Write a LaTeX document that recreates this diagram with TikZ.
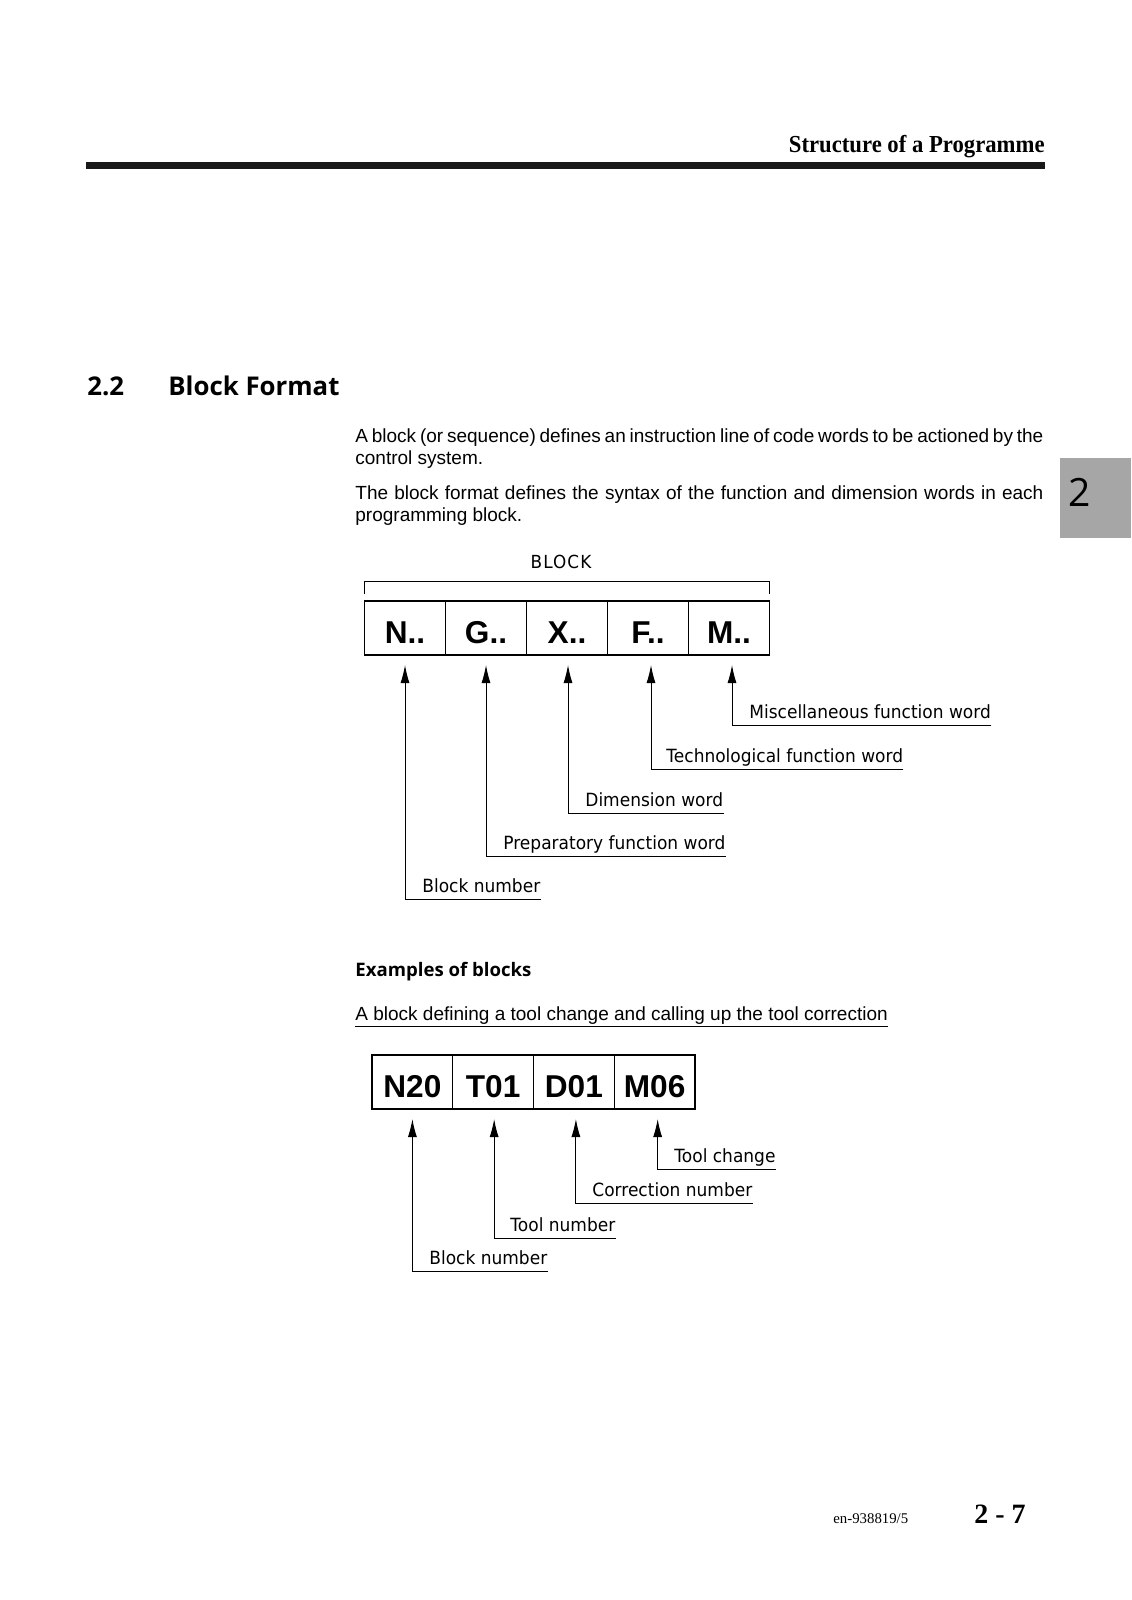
\documentclass[tikz,border=0pt]{standalone}
\usepackage{fontspec}
\setmainfont{Liberation Sans}
\newfontfamily\labelfont[FakeStretch=0.935]{DejaVu Sans}
\newfontfamily\headfont{Open Sans}
\newfontfamily\runfont[FakeStretch=0.93]{Liberation Serif}
\newfontfamily\footfont{Liberation Serif}
\usetikzlibrary{arrows.meta,positioning}

\begin{document}
\begin{tikzpicture}[x=0.5pt,y=-0.5pt,>=Latex,
  word/.style={draw,line width=0.5pt,minimum width=40.5pt,minimum height=27pt,inner sep=0pt,outer sep=0pt,text height=15pt,text depth=0pt,font=\bfseries\fontsize{15.8}{18}\selectfont},
  note/.style={anchor=south west,inner sep=0pt,text depth=3pt,font=\labelfont\fontsize{9.1}{11}\selectfont},
  body/.style={anchor=base west,inner sep=0pt,font=\fontsize{9.5}{11}\selectfont},
  pointer/.style={-{Latex[length=9pt,width=4.5pt]},line width=0.5pt,shorten >=5pt}]
\useasboundingbox (0,0) rectangle (1131,1600);

% running head
\node[anchor=base east,inner sep=0pt,font=\runfont\bfseries\fontsize{12.2}{14}\selectfont] (head) at (1045,152) {Structure of a Programme};
\fill[black!90] (86,162) rectangle (1045,169);

% side tab
\fill[black!35] (1060,458) rectangle (1131,538);
\node[inner sep=0pt,font=\headfont\fontsize{19.5}{22}\selectfont] (tab) at (1080,492) {2};

% section heading
\node[anchor=base west,inner sep=0pt,font=\headfont\bfseries\fontsize{12.9}{15}\selectfont] (secnum) at (87,395) {2.2};
\node[anchor=base west,inner sep=0pt,font=\headfont\bfseries\fontsize{12.9}{15}\selectfont] (sectitle) at (168,395) {Block Format};

% text
\node[body] (p1a) at (355,442) {\makebox[344pt][s]{A block (or sequence) defines an instruction line of code words to be actioned by the}};
\node[body] (p1b) at (355,464) {control system.};
\node[body] (p2a) at (355,499) {\makebox[344pt][s]{The block format defines the syntax of the function and dimension words in each}};
\node[body] (p2b) at (355,521) {programming block.};

% block format
\node[word] (n1) at (405,628) {N..};
\node[word,right=0pt of n1] (n2) {G..};
\node[word,right=0pt of n2] (n3) {X..};
\node[word,right=0pt of n3] (n4) {F..};
\node[word,right=0pt of n4] (n5) {M..};
\draw[line width=0.9pt] (n1.north west) rectangle (n5.south east);
\draw[line width=0.5pt] ([yshift=3.5pt]n1.north west) -- ([yshift=10pt]n1.north west) -- ([yshift=10pt]n5.north east) -- ([yshift=3.5pt]n5.north east);
\node[inner sep=0pt,font=\labelfont\fontsize{9}{11}\selectfont\addfontfeature{LetterSpace=6}] (blk) at (561,562) {BLOCK};

\node[note] (t5) at (749,725) {Miscellaneous function word};
\node[note] (t4) at (666,769) {Technological function word};
\node[note] (t3) at (585,813) {Dimension word};
\node[note] (t2) at (503,856) {Preparatory function word};
\node[note] (t1) at (422,899) {Block number};
\draw[pointer] (t5.south east) -- ([xshift=1.5pt]t5.south west -| n5.south) -- ([xshift=1.5pt]n5.south);
\draw[pointer] (t4.south east) -- ([xshift=1.5pt]t4.south west -| n4.south) -- ([xshift=1.5pt]n4.south);
\draw[pointer] (t3.south east) -- ([xshift=0.5pt]t3.south west -| n3.south) -- ([xshift=0.5pt]n3.south);
\draw[pointer] (t2.south east) -- (t2.south west -| n2.south) -- (n2.south);
\draw[pointer] (t1.south east) -- (t1.south west -| n1.south) -- (n1.south);

% examples
\node[anchor=base west,inner sep=0pt,font=\headfont\bfseries\fontsize{9.3}{11}\selectfont] (ex) at (355,976) {Examples of blocks};
\node[anchor=south west,inner sep=0pt,text depth=2.5pt,font=\fontsize{9.5}{11}\selectfont] (ttl) at (355,1026) {A block defining a tool change and calling up the tool correction};
\draw[line width=0.5pt] (ttl.south west) -- (ttl.south east);

\node[word,minimum width=40.375pt] (m1) at (412.4,1082) {N20};
\node[word,minimum width=40.375pt,right=0pt of m1] (m2) {T01};
\node[word,minimum width=40.375pt,right=0pt of m2] (m3) {D01};
\node[word,minimum width=40.375pt,right=0pt of m3] (m4) {M06};
\draw[line width=0.9pt] (m1.north west) rectangle (m4.south east);

\node[note] (u4) at (674,1169) {Tool change};
\node[note] (u3) at (592,1203) {Correction number};
\node[note] (u2) at (510,1238) {Tool number};
\node[note] (u1) at (429,1271) {Block number};
\draw[pointer] (u4.south east) -- ([xshift=1.5pt]u4.south west -| m4.south) -- ([xshift=1.5pt]m4.south);
\draw[pointer] (u3.south east) -- ([xshift=1pt]u3.south west -| m3.south) -- ([xshift=1pt]m3.south);
\draw[pointer] (u2.south east) -- ([xshift=0.5pt]u2.south west -| m2.south) -- ([xshift=0.5pt]m2.south);
\draw[pointer] (u1.south east) -- (u1.south west -| m1.south) -- (m1.south);

% footer
\node[anchor=base west,inner sep=0pt,font=\footfont\fontsize{7.4}{9}\selectfont] (docno) at (833,1523) {en-938819/5};
\node[anchor=base east,inner sep=0pt,font=\footfont\bfseries\fontsize{14}{16}\selectfont] (pageno) at (1026,1523) {2 - 7};
\end{tikzpicture}
\end{document}
